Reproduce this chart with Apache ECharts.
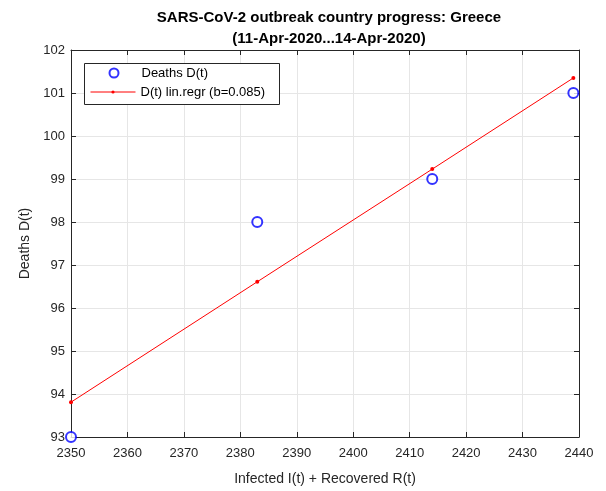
<!DOCTYPE html>
<html><head><meta charset="utf-8">
<script src="https://cdn.jsdelivr.net/npm/echarts@6/dist/echarts.min.js"></script>
<style>html,body{margin:0;padding:0;background:#fff}#c{width:606px;height:491px}</style>
</head><body><div id="c"></div>
<script>
const xVals = [2350, 2383, 2414, 2439];
const deaths = [93, 98, 99, 101];
const regrVals = [93.81, 96.61, 99.23, 101.35];
const titleText = 'SARS-CoV-2 outbreak country progress: Greece\n(11-Apr-2020...14-Apr-2020)';
const xName = 'Infected I(t) + Recovered R(t)';
const yName = 'Deaths D(t)';
const nameScatter = 'Deaths D(t)';
const nameLine = 'D(t) lin.regr (b=0.085)';

const chart = echarts.init(document.getElementById('c'));
const font = 'Liberation Sans, Arial, sans-serif';
const axisCommon = {
  axisLine: {show: true, lineStyle: {color: '#262626', width: 1}},
  axisTick: {show: true, inside: true, length: 5, lineStyle: {color: '#262626'}},
  axisLabel: {color: '#262626', fontSize: 13, fontFamily: font},
};
const legendCommon = {
  orient: 'vertical', padding: 0, itemWidth: 45, z: 6,
  textStyle: {fontSize: 13, color: '#000', fontFamily: font, lineHeight: 15},
  selectedMode: false
};
chart.setOption({
  animation: false,
  title: {text: titleText, left: 324, top: 2, textAlign: 'center',
    textStyle: {fontSize: 15, fontWeight: 'bold', color: '#000', fontFamily: font, lineHeight: 21}},
  grid: {left: 71, right: 27, top: 50, bottom: 52},
  graphic: [{type: 'rect', left: 84, top: 63, z: 5,
    shape: {width: 195, height: 41},
    style: {fill: '#fff', stroke: '#262626', lineWidth: 1}}],
  legend: [
    Object.assign({}, legendCommon, {left: 108.5, top: 65.5, itemHeight: 9, data: [nameScatter]}),
    Object.assign({}, legendCommon, {left: 90, top: 84.5, itemHeight: 4, data: [nameLine],
      lineStyle: {width: 1, color: '#ff0000'}})
  ],
  xAxis: [
    Object.assign({}, axisCommon, {type: 'value', min: 2350, max: 2440, interval: 10,
      name: xName, nameLocation: 'middle', nameGap: 35,
      nameTextStyle: {fontSize: 14, color: '#262626', fontFamily: font},
      splitLine: {show: true, lineStyle: {color: '#e6e6e6'}},
      axisLabel: Object.assign({}, axisCommon.axisLabel, {margin: 10, formatter: v => String(v)})}),
    Object.assign({}, axisCommon, {type: 'value', position: 'top', min: 2350, max: 2440, interval: 10,
      axisLabel: {show: false}, splitLine: {show: false}})
  ],
  yAxis: [
    Object.assign({}, axisCommon, {type: 'value', min: 93, max: 102, interval: 1,
      name: yName, nameLocation: 'middle', nameGap: 37,
      nameTextStyle: {fontSize: 14, color: '#262626', fontFamily: font},
      splitLine: {show: true, lineStyle: {color: '#e6e6e6'}},
      axisLabel: Object.assign({}, axisCommon.axisLabel, {margin: 6})}),
    Object.assign({}, axisCommon, {type: 'value', position: 'right', min: 93, max: 102, interval: 1,
      axisLabel: {show: false}, splitLine: {show: false}})
  ],
  series: [
    {name: nameLine, type: 'line', xAxisIndex: 0, yAxisIndex: 0,
      data: xVals.map((x, i) => [x, regrVals[i]]),
      lineStyle: {color: '#ff0000', width: 1}, itemStyle: {color: '#ff0000'},
      symbol: 'circle', symbolSize: 4, z: 3},
    {name: nameScatter, type: 'scatter', xAxisIndex: 0, yAxisIndex: 0,
      data: xVals.map((x, i) => [x, deaths[i]]),
      symbol: 'emptyCircle', symbolSize: 10,
      itemStyle: {color: '#0000ff', borderColor: '#0000ff', borderWidth: 1.2}, z: 4}
  ]
});
</script></body></html>
